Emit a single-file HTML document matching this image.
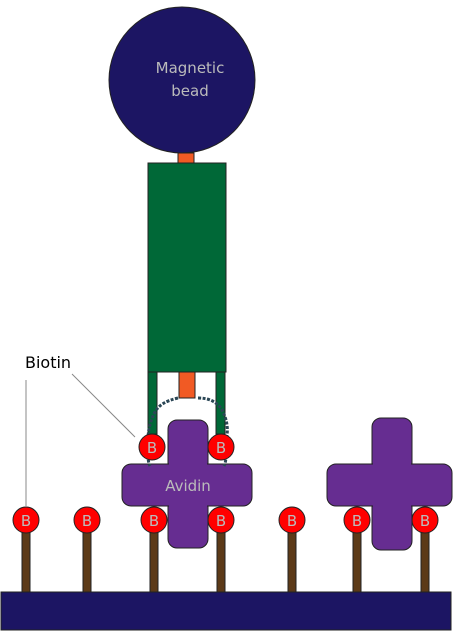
<!DOCTYPE html>
<html><head><meta charset="utf-8"><style>
html,body{margin:0;padding:0;background:#fff;}
svg{display:block;font-family:"DejaVu Sans","Liberation Sans",sans-serif;}
</style></head><body>
<svg width="458" height="631" viewBox="0 0 458 631">
  <rect x="1" y="592" width="450" height="38" fill="#1c1563" stroke="#222" stroke-width="1"/>
  <g stroke="#222" stroke-width="1">
    <rect x="22" y="530" width="8" height="62" fill="#5c3a18"/>
    <rect x="83" y="530" width="8" height="62" fill="#5c3a18"/>
    <rect x="150" y="530" width="8" height="62" fill="#5c3a18"/>
    <rect x="217" y="530" width="8" height="62" fill="#5c3a18"/>
    <rect x="288" y="530" width="8" height="62" fill="#5c3a18"/>
    <rect x="353" y="530" width="8" height="62" fill="#5c3a18"/>
    <rect x="421" y="530" width="8" height="62" fill="#5c3a18"/>
  </g>
  <g>
    <rect x="168" y="420" width="40" height="128" rx="9" fill="#662d91" stroke="#222"/>
    <rect x="122" y="464" width="130" height="42" rx="9" fill="#662d91" stroke="#222"/>
    <rect x="169" y="421" width="38" height="126" rx="8" fill="#662d91"/>
    <text x="188" y="491" font-size="15" fill="#bbb" text-anchor="middle">Avidin</text>
  </g>
  <g>
    <rect x="372" y="418" width="40" height="132" rx="9" fill="#662d91" stroke="#222"/>
    <rect x="327" y="464" width="125" height="42" rx="9" fill="#662d91" stroke="#222"/>
    <rect x="373" y="419" width="38" height="130" rx="8" fill="#662d91"/>
  </g>
  <g fill="#ff0000" stroke="#222" stroke-width="1">
    <circle cx="26" cy="520" r="13"/><circle cx="87" cy="520" r="13"/><circle cx="154" cy="520" r="13"/>
    <circle cx="221" cy="520" r="13"/><circle cx="292" cy="520" r="13"/><circle cx="357" cy="520" r="13"/>
    <circle cx="425" cy="520" r="13"/>
  </g>
  <g font-size="15" fill="#bbb" text-anchor="middle">
    <text x="26" y="526">B</text><text x="87" y="526">B</text><text x="154" y="526">B</text>
    <text x="221" y="526">B</text><text x="292" y="526">B</text><text x="357" y="526">B</text>
    <text x="425" y="526">B</text>
  </g>
  <circle cx="182" cy="80" r="73" fill="#1c1563" stroke="#222"/>
  <text x="190" y="73" font-size="15" fill="#bbb" text-anchor="middle">Magnetic</text>
  <text x="190" y="96" font-size="15" fill="#bbb" text-anchor="middle">bead</text>
  <rect x="178" y="153" width="16" height="10" fill="#f15a24" stroke="#222"/>
  <rect x="148" y="163" width="78" height="209" fill="#006837" stroke="#222"/>
  <rect x="148" y="372" width="9" height="62" fill="#006837" stroke="#222"/>
  <rect x="216" y="372" width="9" height="62" fill="#006837" stroke="#222"/>
  <rect x="179" y="372" width="16" height="26" fill="#f15a24" stroke="#222"/>
  <g fill="none" stroke="#2a4655" stroke-width="3" stroke-dasharray="3 1.5">
    <path d="M198 398 Q215 398 222 410 Q230 425 226 440"/>
    <path d="M178 398 Q160 402 155 412 Q148 425 148 440"/>
    <path d="M148 455 Q148 462 150 466"/>
    <path d="M226 455 Q226 462 224 466"/>
  </g>
  <circle cx="152" cy="447" r="13" fill="#ff0000" stroke="#222"/>
  <circle cx="221" cy="447" r="13" fill="#ff0000" stroke="#222"/>
  <text x="152" y="453" font-size="15" fill="#bbb" text-anchor="middle">B</text>
  <text x="221" y="453" font-size="15" fill="#bbb" text-anchor="middle">B</text>
  <text x="25" y="368" font-size="16" fill="#000">Biotin</text>
  <line x1="26" y1="380" x2="26" y2="506" stroke="#888" stroke-width="1"/>
  <line x1="72" y1="374" x2="135" y2="437" stroke="#888" stroke-width="1"/>
</svg>
</body></html>
